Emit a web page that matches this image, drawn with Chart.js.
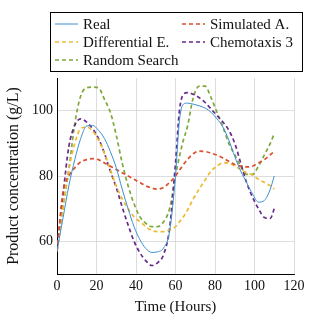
<!DOCTYPE html>
<html>
<head>
<meta charset="utf-8">
<script src="https://cdn.jsdelivr.net/npm/chart.js@4"></script>
<style>
  html, body { margin: 0; padding: 0; background: #fff; }
  #wrap { width: 315px; height: 320px; }
</style>
</head>
<body>
<div id="wrap"><canvas id="productChart" width="315" height="320"></canvas></div>
<script>
const hours = [0, 3, 6, 9, 12, 15, 18, 21, 24, 27, 30, 33, 36, 39, 42, 45, 48, 51, 54, 57, 60, 62, 64, 66, 69, 72, 75, 78, 81, 84, 87, 90, 93, 96, 99, 102, 105, 108, 110];

const realValues = [57, 67, 77, 85, 91.5, 95.3, 95.5, 94, 91.5, 87.5, 82.5, 76, 70, 64.5, 60.5, 57.8, 56.6, 56.8, 58, 63, 80, 97, 102, 102.3, 102, 101.5, 100.8, 99.5, 97.5, 95, 91, 86, 81.5, 78, 74.5, 72, 72.5, 76, 80];
const simulatedValues = [57, 75, 80, 82.5, 84.3, 85, 85.3, 85, 84, 83, 82, 81, 80, 79, 78, 77, 76.3, 76, 76.5, 78, 80, 81.8, 83.5, 85, 86.8, 87.6, 87.5, 87, 86.4, 85.5, 84.5, 83.5, 83, 82.8, 83, 84, 85, 86.5, 87.5];
const differentialValues = [57, 70, 82, 90, 94.5, 95, 93.8, 91, 87, 82, 77, 73, 70, 67.5, 66, 64.5, 63.3, 63, 63, 63.5, 64.5, 66, 67.5, 69.5, 73, 76, 78.8, 81.5, 83, 84, 84, 83, 82, 81, 80.3, 79, 78, 77, 76];
const chemotaxisValues = [57, 74, 89, 95.5, 97.5, 96.5, 94.5, 91.5, 87, 81.5, 76.5, 70.5, 65, 60, 56.5, 54, 52.6, 53.5, 56, 64, 84, 100, 105, 105.5, 105, 104, 102.5, 100.5, 98.5, 96.5, 94, 90, 84, 78, 73.5, 70, 67.3, 67, 70];
const randomValues = [57, 70, 82, 96, 104.5, 107, 107.2, 107, 103.5, 99.5, 92.5, 84, 77, 71.5, 67.5, 65.5, 64.5, 64.5, 66, 70, 80, 86, 91, 95, 104, 107.5, 107.5, 104, 99.5, 95, 90, 86.5, 83, 80.5, 80.5, 83, 86.5, 90, 93];

const xTicks = [0, 20, 40, 60, 80, 100, 120];
const yTicks = [60, 80, 100];

const serif = "'Liberation Serif', 'DejaVu Serif', serif";

const toPoints = vals => vals.map((v, i) => ({ x: hours[i], y: v }));

const series = [
  { label: 'Real', values: realValues, color: '#3d8fd1', dashed: false },
  { label: 'Simulated A.', values: simulatedValues, color: '#d9502e', dashed: true },
  { label: 'Differential E.', values: differentialValues, color: '#edbb30', dashed: true },
  { label: 'Chemotaxis 3', values: chemotaxisValues, color: '#66298c', dashed: true },
  { label: 'Random Search', values: randomValues, color: '#7ea83a', dashed: true }
];

// legend drawn by hand so it keeps the two-column pgfplots look
const boxLegend = {
  id: 'boxLegend',
  afterDraw(chart) {
    const ctx = chart.ctx;
    ctx.save();
    ctx.strokeStyle = '#000';
    ctx.lineWidth = 1;
    ctx.strokeRect(50.5, 12.5, 252, 59);
    const cols = [55, 182];
    const rows = [24, 42, 60];
    ctx.font = '15px ' + serif;
    ctx.textBaseline = 'middle';
    chart.data.datasets.forEach((ds, i) => {
      const x = cols[i % 2];
      const y = rows[Math.floor(i / 2)];
      ctx.beginPath();
      ctx.strokeStyle = ds.borderColor;
      ctx.lineWidth = ds.borderWidth;
      ctx.setLineDash(ds.borderDash || []);
      ctx.moveTo(x, y);
      ctx.lineTo(x + 23, y);
      ctx.stroke();
      ctx.setLineDash([]);
      ctx.fillStyle = '#111';
      ctx.fillText(ds.label, x + 28, y + 1);
    });
    ctx.restore();
  }
};

new Chart(document.getElementById('productChart'), {
  type: 'line',
  data: {
    datasets: series.map(s => ({
      label: s.label,
      data: toPoints(s.values),
      borderColor: s.color,
      borderWidth: s.dashed ? 1.7 : 1,
      borderDash: s.dashed ? [4, 3] : [],
      pointRadius: 0,
      fill: false,
      cubicInterpolationMode: 'monotone'
    }))
  },
  options: {
    responsive: false,
    animation: false,
    layout: { padding: { top: 78, right: 21, left: 0, bottom: 0 } },
    plugins: {
      legend: { display: false },
      tooltip: { enabled: false }
    },
    scales: {
      x: {
        type: 'linear',
        min: 0,
        max: 120,
        afterBuildTicks: scale => { scale.ticks = xTicks.map(v => ({ value: v })); },
        afterFit: scale => { scale.height = 46; },
        grid: { color: '#d4d4d4', lineWidth: 0.8, drawTicks: false },
        border: { color: '#000', width: 1 },
        ticks: { color: '#111', font: { family: serif, size: 14 }, padding: 4, maxRotation: 0 },
        title: { display: true, text: 'Time (Hours)', color: '#111', font: { family: serif, size: 15 }, padding: { top: 1 } }
      },
      y: {
        min: 50,
        max: 110,
        afterBuildTicks: scale => { scale.ticks = yTicks.map(v => ({ value: v })); },
        afterFit: scale => { scale.width = 57; },
        grid: { color: '#d4d4d4', lineWidth: 0.8, drawTicks: false },
        border: { color: '#000', width: 1 },
        ticks: { color: '#111', font: { family: serif, size: 14 }, padding: 4 },
        title: { display: true, text: 'Product concentration (g/L)', color: '#111', font: { family: serif, size: 16 }, padding: { bottom: 2 } }
      }
    }
  },
  plugins: [boxLegend]
});
</script>
</body>
</html>
